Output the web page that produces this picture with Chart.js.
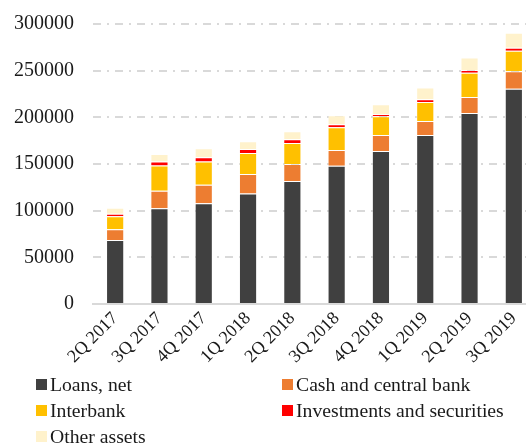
<!DOCTYPE html>
<html>
<head>
<meta charset="utf-8">
<script src="https://cdn.jsdelivr.net/npm/chart.js@4/dist/chart.umd.min.js"></script>
<style>
  html, body { margin: 0; padding: 0; background: #fff; overflow: hidden; width: 526px; height: 443px; }
  #wrap { position: absolute; left: 0; top: 0; width: 545px; height: 370px; }
  #legend { position: absolute; left: 0; top: 0; width: 526px; height: 443px; pointer-events: none;
            font-family: "Liberation Serif", "DejaVu Serif", serif; font-size: 19.7px; color: #1a1a1a; }
  .item { position: absolute; white-space: nowrap; line-height: 22px; }
  .box { position: absolute; width: 11px; height: 11px; top: 6px; left: -14px; }
</style>
</head>
<body>
<div id="wrap"><canvas id="c" width="545" height="370"></canvas></div>
<div id="legend"></div>
<script>
const categories = ["2Q 2017","3Q 2017","4Q 2017","1Q 2018","2Q 2018","3Q 2018","4Q 2018","1Q 2019","2Q 2019","3Q 2019"];
const loansNet     = [68700, 102700, 108000, 118500, 131700, 148200, 163900, 181100, 204700, 230500];
const cashCentral  = [11400, 18700, 19800, 20700, 18200, 16800, 17200, 15000, 17200, 19000];
const interbank    = [14000, 27100, 25000, 22500, 22600, 24300, 20100, 20400, 25800, 21800];
const investments  = [2600, 4300, 4300, 4300, 4000, 3300, 2400, 2900, 2900, 3300];
const otherAssets  = [6400, 7900, 9700, 8300, 8600, 9600, 10400, 12600, 13600, 16000];
const seriesNames  = ["Loans, net", "Cash and central bank", "Interbank", "Investments and securities", "Other assets"];
const yTicks       = [0, 50000, 100000, 150000, 200000, 250000, 300000];

const seriesData = [loansNet, cashCentral, interbank, investments, otherAssets];
const colors = ["#404040", "#ED7D31", "#FFC000", "#FF0000", "#FFF2CC"];

const datasets = seriesData.map((d, i) => ({
  label: seriesNames[i],
  data: d,
  backgroundColor: colors[i],
  borderColor: "rgba(255,255,255,0.25)",
  borderWidth: 1,
  barPercentage: 0.41,
  categoryPercentage: 1.0
}));

const FONT = "'Liberation Serif', 'DejaVu Serif', serif";

new Chart(document.getElementById("c"), {
  type: "bar",
  data: { labels: categories, datasets },
  options: {
    responsive: false,
    animation: false,
    layout: { padding: { top: 24, right: 9, bottom: 0, left: 0 } },
    plugins: { legend: { display: false }, tooltip: { enabled: false } },
    scales: {
      x: {
        stacked: true,
        grid: { display: false, drawTicks: false },
        border: { display: true, color: "#D9D9D9", width: 2 },
        ticks: {
          minRotation: 45, maxRotation: 45, padding: 4,
          color: "#1a1a1a",
          font: { family: FONT, size: 18 }
        },
        afterFit: (s) => { s.height = 66; s.paddingLeft = 0; s.paddingRight = 0; }
      },
      y: {
        stacked: true,
        min: 0, max: 300000,
        afterBuildTicks: (s) => { s.ticks = yTicks.map(v => ({ value: v })); },
        grid: {
          color: (ctx) => ctx.tick && ctx.tick.value === 0 ? "rgba(0,0,0,0)" : "#D9D9D9",
          lineWidth: 2,
          drawTicks: false
        },
        border: { display: false, dash: [8, 6, 2, 6] },
        ticks: {
          padding: 19,
          color: "#1a1a1a",
          font: { family: FONT, size: 20 },
          callback: (v) => String(v)
        },
        afterFit: (s) => { s.width = 93; s.paddingTop = 0; s.paddingBottom = 0; }
      }
    }
  }
});

// HTML legend, two columns
const legend = document.getElementById("legend");
const positions = [[50, 373], [296, 373], [50, 399], [296, 399], [50, 425]];
seriesNames.forEach((name, i) => {
  const el = document.createElement("div");
  el.className = "item";
  el.style.left = positions[i][0] + "px";
  el.style.top = positions[i][1] + "px";
  const b = document.createElement("span");
  b.className = "box";
  b.style.background = colors[i];
  el.appendChild(b);
  el.appendChild(document.createTextNode(name));
  legend.appendChild(el);
});
</script>
</body>
</html>
